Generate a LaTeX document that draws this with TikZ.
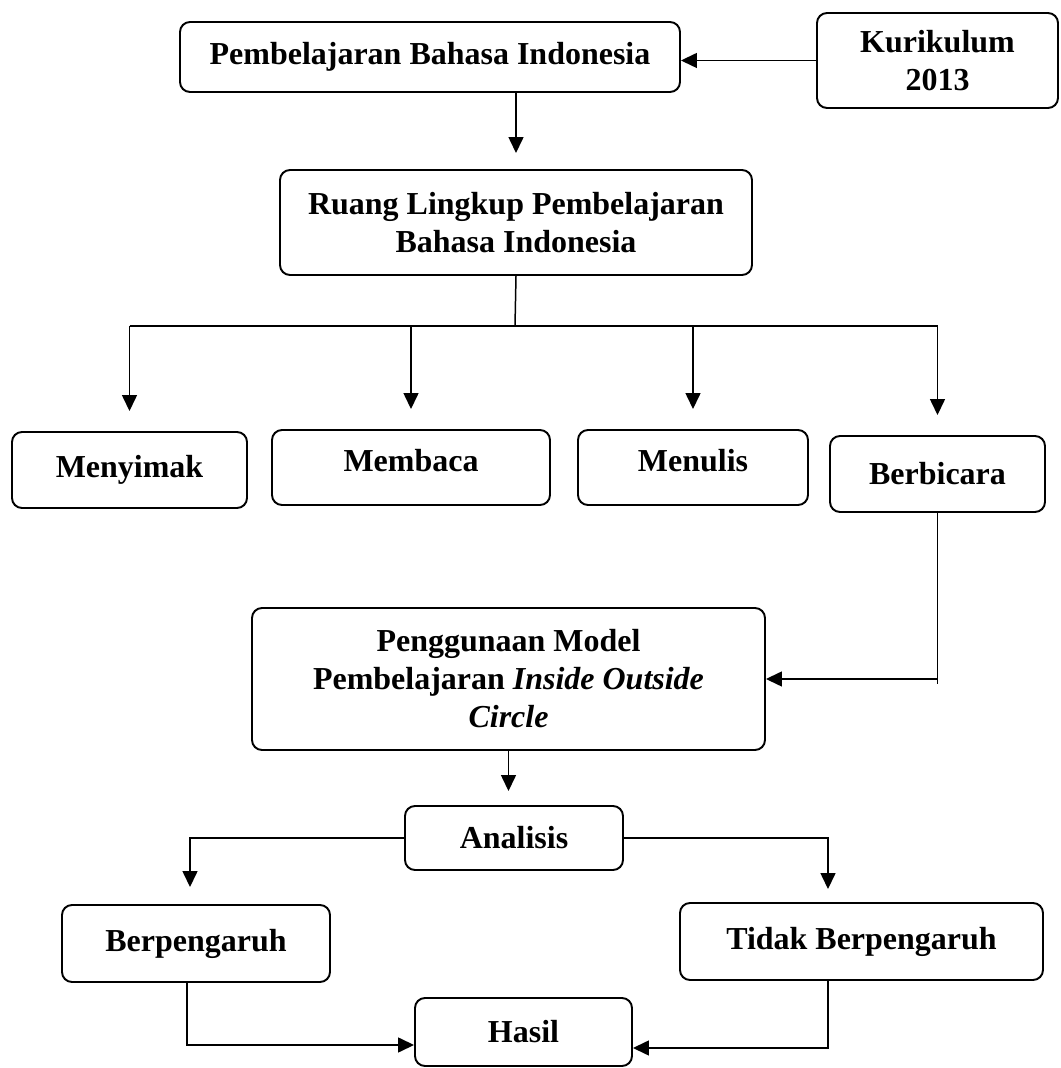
\documentclass[tikz,border=0pt]{standalone}
\usepackage{fontspec}
\setmainfont{Liberation Serif}
\usetikzlibrary{arrows.meta}

\begin{document}
\begin{tikzpicture}[
        box/.style = {draw, line width=1.1pt, rounded corners=0.2cm, align=center, inner sep=0pt,
                      font=\fontsize{18.2}{21.6}\selectfont\bfseries},
        conn/.style = {line width=0.85pt},
        arr/.style = {conn, -{Triangle[length=0.32cm, width=0.3cm]}}]
            \useasboundingbox (0, 0) rectangle (21.22, 21.36);
            % top: curriculum and subject
                \node[box, minimum width=10cm, minimum height=1.4cm] (learn) at (8.60, 20.22) {Pembelajaran Bahasa Indonesia};
                \node[box, minimum width=4.82cm, minimum height=1.9cm] (kur) at (18.75, 20.15) {Kurikulum\\2013};
                \draw[arr] (kur.west) -- (kur.west -| learn.east);

                \node[box, minimum width=9.44cm, minimum height=2.1cm] (scope) at (10.32, 16.91) {Ruang Lingkup Pembelajaran\\Bahasa Indonesia};
                \draw[arr, shorten >=0.32cm] (learn.south -| scope.north) -- (scope.north);

            % four language skills
                \node[box, minimum width=4.7cm, minimum height=1.52cm] (simak) at (2.59, 11.96) {Menyimak};
                \node[box, minimum width=5.56cm, minimum height=1.5cm, text depth=0.3cm] (baca) at (8.22, 12.01) {Membaca};
                \node[box, minimum width=4.6cm, minimum height=1.5cm, text depth=0.3cm] (tulis) at (13.86, 12.01) {Menulis};
                \node[box, minimum width=4.3cm, minimum height=1.52cm] (bicara) at (18.75, 11.88) {Berbicara};

                \coordinate (split) at (10.30, 14.84);
                \draw[conn] (scope.south) -- (split);
                \draw[conn] (split -| simak.north) -- (split -| bicara.north);
                \foreach \skill in {simak, baca, tulis, bicara}
                    \draw[arr, shorten >=0.4cm] (split -| \skill.north) -- (\skill.north);

            % model
                \node[box, minimum width=10.26cm, minimum height=2.84cm] (model) at (10.17, 7.78) {Penggunaan Model\\Pembelajaran {\itshape Inside Outside}\\{\itshape Circle}};
                \coordinate (turn) at (bicara.south |- model.east);
                \draw[conn] (bicara.south) -- ([yshift=-0.1cm]turn);
                \draw[arr] (turn) -- (model.east);

            % analysis and result
                \node[box, minimum width=4.36cm, minimum height=1.28cm] (analisis) at (10.28, 4.60) {Analisis};
                \draw[arr, shorten >=0.28cm] (model.south) -- (model.south |- analisis.north);

                \node[box, minimum width=5.36cm, minimum height=1.54cm] (ya) at (3.92, 2.49) {Berpengaruh};
                \node[box, minimum width=7.26cm, minimum height=1.54cm] (tidak) at (17.23, 2.53) {Tidak Berpengaruh};
                \draw[arr, shorten >=0.34cm] (analisis.west) -| ([xshift=-0.12cm]ya.north);
                \draw[arr, shorten >=0.26cm] (analisis.east) -| ([xshift=-0.67cm]tidak.north);

                \node[box, minimum width=4.34cm, minimum height=1.36cm] (hasil) at (10.47, 0.72) {Hasil};
                \draw[arr] ([xshift=-0.18cm]ya.south) |- ([yshift=-0.26cm]hasil.west);
                \draw[arr] ([xshift=-0.67cm]tidak.south) |- ([yshift=-0.32cm]hasil.east);
            \end{tikzpicture}
\end{document}
